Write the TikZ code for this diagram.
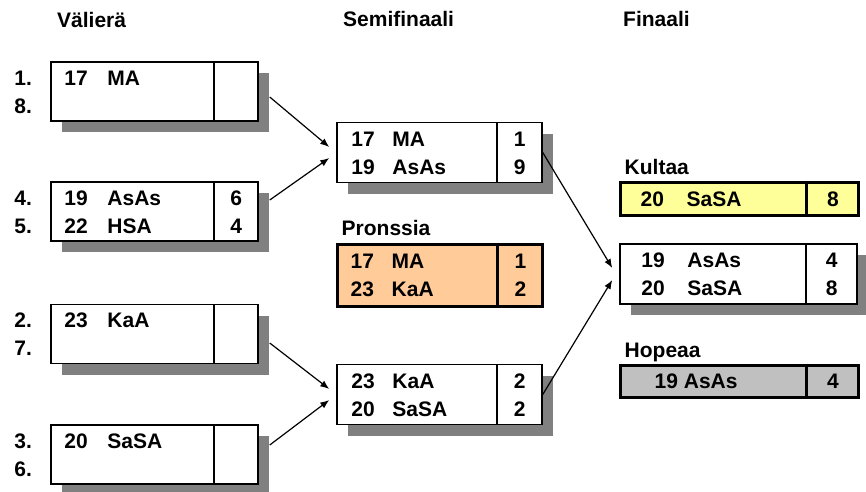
\documentclass[tikz,border=0pt]{standalone}
\usepackage{fontspec}
\setmainfont{Liberation Sans}
\usetikzlibrary{calc,shadows,arrows.meta}
\definecolor{bronze}{HTML}{FFCC99}
\definecolor{gold}{HTML}{FFFF99}
\definecolor{silver}{HTML}{C0C0C0}
\definecolor{shade}{HTML}{808080}
% number and club name of one row
\newcommand{\entry}[3][43pt]{\makebox[#1][l]{#2}#3}
\tikzset{
  match/.style={draw, line width=1.5pt, fill=white, inner sep=0pt,
    minimum width=207pt, minimum height=59pt,
    drop shadow={shadow xshift=11pt, shadow yshift=-11pt, fill=shade, opacity=1}},
  medal/.style={draw, line width=3pt, fill=#1, inner sep=0pt,
    minimum width=238pt, minimum height=33pt},
  divider/.style={line width=1.5pt},
  txt/.style={inner sep=0pt, text height=15pt, text depth=0pt,
    font=\bfseries\fontsize{21}{25}\selectfont},
  team/.style={txt, anchor=west},
  score/.style={txt},
  heading/.style={txt, anchor=west},
  link/.style={line width=1.2pt, -{Latex[length=9pt, width=7pt]}}
}

\begin{document}
\begin{tikzpicture}[x=1pt, y=-1pt]
  \fill[white] (0,0) rectangle (866,491);
  \useasboundingbox (0,0) rectangle (866,491);

  % headings
  \node[heading] (h1) at (57,20) {Välierä};
  \node[heading] (h2) at (343,19) {Semifinaali};
  \node[heading] (h3) at (623,19) {Finaali};

  % quarter finals
  \node[match] (q1) at (154.5,91.5) {};
  \node[match] (q2) at (154.5,211.5) {};
  \node[match] (q3) at (154.5,334) {};
  \node[match] (q4) at (154.5,454.5) {};
  \foreach \b in {q1,q2,q3,q4}
    \draw[divider] ([xshift=-45pt]\b.north east) -- ([xshift=-45pt]\b.south east);

  % semi finals and bronze
  \node[match, minimum width=205pt, minimum height=60pt] (s1) at (439.5,152.5) {};
  \node[match, minimum width=205pt, minimum height=60pt] (s2) at (439.5,394.5) {};
  \node[medal=bronze, minimum width=205pt, minimum height=62pt] (bronze) at (439.5,275) {};
  \foreach \b in {s1,s2}
    \draw[divider] ([xshift=-46pt]\b.north east) -- ([xshift=-46pt]\b.south east);
  \draw[divider, line width=3pt] ([xshift=-46pt]bronze.north east) -- ([xshift=-46pt]bronze.south east);

  % final, gold and silver
  \node[match, minimum width=237pt, minimum height=60pt] (fin) at (738.5,274) {};
  \node[medal=gold] (gold) at (739,198.5) {};
  \node[medal=silver, minimum height=32pt] (silver) at (739,381) {};
  \draw[divider] ([xshift=-52pt]fin.north east) -- ([xshift=-52pt]fin.south east);
  \foreach \b in {gold,silver}
    \draw[divider, line width=3pt] ([xshift=-53pt]\b.north east) -- ([xshift=-53pt]\b.south east);

  % seeds
  \node[team] (p1) at ($(q1.west)+(-36,-14)$) {1.};
  \node[team] (p8) at ($(q1.west)+(-36,14)$) {8.};
  \node[team] (p4) at ($(q2.west)+(-36,-14)$) {4.};
  \node[team] (p5) at ($(q2.west)+(-36,14)$) {5.};
  \node[team] (p2) at ($(q3.west)+(-36,-14)$) {2.};
  \node[team] (p7) at ($(q3.west)+(-36,14)$) {7.};
  \node[team] (p3) at ($(q4.west)+(-36,-14)$) {3.};
  \node[team] (p6) at ($(q4.west)+(-36,14)$) {6.};

  % quarter final rows
  \node[team] (q1-a) at ($(q1.west)+(14,-14)$) {\entry{17}{MA}};
  \node[team] (q2-a) at ($(q2.west)+(14,-14)$) {\entry{19}{AsAs}};
  \node[team] (q2-b) at ($(q2.west)+(14,14)$) {\entry{22}{HSA}};
  \node[score] (q2-x) at ($(q2.east)+(-22.5,-14)$) {6};
  \node[score] (q2-y) at ($(q2.east)+(-22.5,14)$) {4};
  \node[team] (q3-a) at ($(q3.west)+(14,-14)$) {\entry{23}{KaA}};
  \node[team] (q4-a) at ($(q4.west)+(14,-14)$) {\entry{20}{SaSA}};

  % semi final rows
  \node[team] (s1-a) at ($(s1.west)+(15,-14)$) {\entry[41pt]{17}{MA}};
  \node[team] (s1-b) at ($(s1.west)+(15,14)$) {\entry[41pt]{19}{AsAs}};
  \node[score] (s1-x) at ($(s1.east)+(-23,-14)$) {1};
  \node[score] (s1-y) at ($(s1.east)+(-23,14)$) {9};
  \node[team] (s2-a) at ($(s2.west)+(15,-14)$) {\entry[41pt]{23}{KaA}};
  \node[team] (s2-b) at ($(s2.west)+(15,14)$) {\entry[41pt]{20}{SaSA}};
  \node[score] (s2-x) at ($(s2.east)+(-23,-14)$) {2};
  \node[score] (s2-y) at ($(s2.east)+(-23,14)$) {2};
  \node[heading] (l-bronze) at ($(bronze.north west)+(6,-15)$) {Pronssia};
  \node[team] (bronze-a) at ($(bronze.west)+(15,-14)$) {\entry[41pt]{17}{MA}};
  \node[team] (bronze-b) at ($(bronze.west)+(15,14)$) {\entry[41pt]{23}{KaA}};
  \node[score] (bronze-x) at ($(bronze.east)+(-23,-14)$) {1};
  \node[score] (bronze-y) at ($(bronze.east)+(-23,14)$) {2};

  % final rows
  \node[team] (fin-a) at ($(fin.west)+(22,-14)$) {\entry[46pt]{19}{AsAs}};
  \node[team] (fin-b) at ($(fin.west)+(22,14)$) {\entry[46pt]{20}{SaSA}};
  \node[score] (fin-x) at ($(fin.east)+(-26,-14)$) {4};
  \node[score] (fin-y) at ($(fin.east)+(-26,14)$) {8};
  \node[heading] (l-gold) at ($(gold.north west)+(6,-14)$) {Kultaa};
  \node[team] (gold-a) at ($(gold.west)+(22,0)$) {\entry[46pt]{20}{SaSA}};
  \node[score] (gold-x) at ($(gold.east)+(-26.5,0)$) {8};
  \node[heading] (l-silver) at ($(silver.north west)+(6,-14)$) {Hopeaa};
  \node[team] (silver-a) at ($(silver.west)+(36,0)$) {19 AsAs};
  \node[score] (silver-x) at ($(silver.east)+(-26.5,0)$) {4};

  % connectors
  \draw[link] ([xshift=11pt,yshift=-5.5pt]q1.east) -- ([xshift=-7pt,yshift=5.5pt]s1.west);
  \draw[link] ([xshift=11pt,yshift=11.5pt]q2.east) -- ([xshift=-7pt,yshift=-5.5pt]s1.west);
  \draw[link] ([xshift=11pt,yshift=-9pt]q3.east) -- ([xshift=-7pt,yshift=5.5pt]s2.west);
  \draw[link] ([xshift=11pt,yshift=9.5pt]q4.east) -- ([xshift=-7pt,yshift=-5.5pt]s2.west);
  \draw[link] (s1.east) -- ([xshift=-7pt,yshift=6pt]fin.west);
  \draw[link] (s2.east) -- ([xshift=-7pt,yshift=-6pt]fin.west);
\end{tikzpicture}
\end{document}
